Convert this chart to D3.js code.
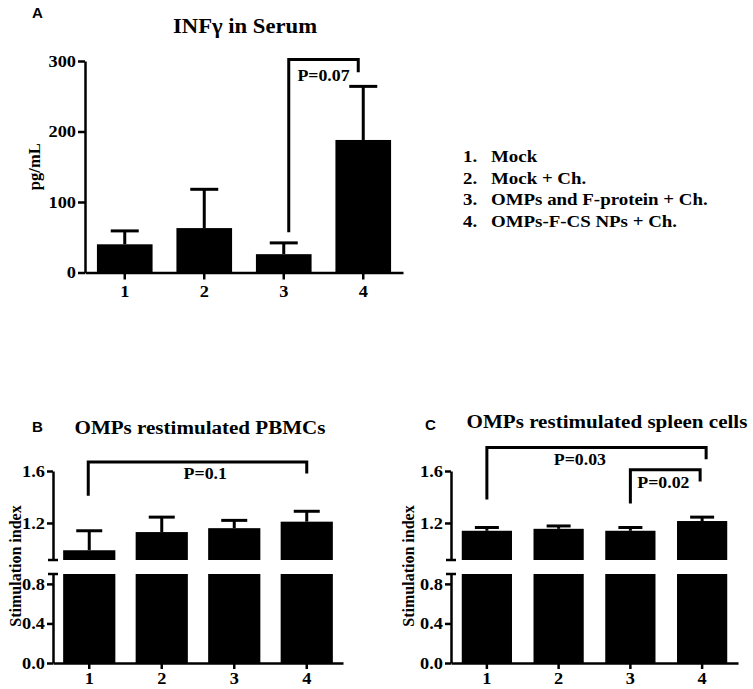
<!DOCTYPE html>
<html><head><meta charset="utf-8">
<script src="https://cdn.jsdelivr.net/npm/d3@7"></script>
<style>
body{margin:0;background:#fff;}
svg text{font-family:"Liberation Serif","Times New Roman",serif;font-weight:bold;fill:#000;}
svg text.letter{font-family:"Liberation Sans",Arial,sans-serif;}
</style></head><body>
<svg id="c" width="753" height="689"></svg>
<script>
// ---------- data ----------
const groups = ["1", "2", "3", "4"];
const legendItems = ["Mock", "Mock + Ch.", "OMPs and F-protein + Ch.", "OMPs-F-CS NPs + Ch."];

const infMean = [40, 63, 26, 188];
const infSem = [19, 55, 16, 76];
const infTicks = [0, 100, 200, 300];

const pbmcMean = [0.99, 1.13, 1.16, 1.21];
const pbmcSem = [0.15, 0.115, 0.06, 0.08];

const spleenMean = [1.14, 1.155, 1.14, 1.215];
const spleenSem = [0.025, 0.022, 0.025, 0.03];

const lowTicks = [0, 0.4, 0.8];
const highTicks = [1.2, 1.6];

// ---------- setup ----------
const svg = d3.select("#c");
svg.append("rect").attr("width", 753).attr("height", 689).attr("fill", "#fff");
const SERIF = '"Liberation Serif","Times New Roman",serif';
const SX = 1.08; // slight horizontal stretch of the original figure text

function txt(x, y, s, size, anchor, cls) {
  const t = svg.append("text")
    .attr("transform", `translate(${x},${y}) scale(${SX},1)`)
    .attr("font-size", size).attr("text-anchor", anchor || "start").text(s);
  if (cls) t.attr("class", cls);
  return t;
}
function styleAxis(g, fs) {
  g.attr("font-family", SERIF).attr("font-size", fs).attr("font-weight", "bold");
  g.selectAll("path,line").attr("stroke", "#000").attr("stroke-width", 2.5);
  g.selectAll("text").attr("fill", "#000").each(function () {
    const t = d3.select(this);
    const xv = +t.attr("x") || 0;
    t.attr("x", xv / SX).attr("transform", `scale(${SX},1)`);
  });
}
function bracket(x1, x2, yTop, yL, yR) {
  svg.append("path")
    .attr("d", `M${x1},${yL}V${yTop}H${x2}V${yR}`)
    .attr("fill", "none").attr("stroke", "#000").attr("stroke-width", 3);
}
function errBar(cx, y0, y1, half) {
  svg.append("line").attr("x1", cx).attr("x2", cx).attr("y1", y0).attr("y2", y1)
    .attr("stroke", "#000").attr("stroke-width", 3);
  svg.append("line").attr("x1", cx - half).attr("x2", cx + half).attr("y1", y1).attr("y2", y1)
    .attr("stroke", "#000").attr("stroke-width", 3);
}

// ---------- Panel A ----------
const xA = d3.scaleBand().domain(groups).range([85, 403]).paddingInner(0.3).paddingOuter(0.15);
const yA = d3.scaleLinear().domain([0, 300]).range([272.5, 61]);

txt(32, 18, "A", 14, "start", "letter");
txt(245, 33, "INFγ in Serum", 21, "middle");

groups.forEach((g, i) => {
  const cx = xA(g) + xA.bandwidth() / 2;
  errBar(cx, yA(infMean[i]), yA(infMean[i] + infSem[i]), 14);
  svg.append("rect").attr("x", xA(g)).attr("width", xA.bandwidth())
    .attr("y", yA(infMean[i])).attr("height", yA(0) - yA(infMean[i])).attr("fill", "#000");
});

svg.append("g").attr("transform", "translate(85,0)")
  .call(d3.axisLeft(yA).tickValues(infTicks).tickSize(7).tickPadding(2).tickSizeOuter(0))
  .call(g => styleAxis(g, 17));
svg.append("g").attr("transform", `translate(0,${yA(0)})`)
  .call(d3.axisBottom(xA).tickSize(7).tickPadding(5).tickSizeOuter(0))
  .call(g => styleAxis(g, 17));

svg.append("text").attr("transform", `translate(40,${(yA(0) + yA(300)) / 2}) rotate(-90)`)
  .attr("text-anchor", "middle").attr("font-size", 16.5).text("pg/mL");

{
  const c3 = xA("3") + xA.bandwidth() / 2, c4 = xA("4") + xA.bandwidth() / 2;
  bracket(c3 + 5, c4 - 5, yA(302), yA(57), yA(284));
  txt((c3 + c4) / 2, yA(272), "P=0.07", 16.5, "middle");
}

// legend
legendItems.forEach((t, i) => {
  const y = 162 + i * 21.5;
  txt(463, y, (i + 1) + ".", 17.5);
  txt(491, y, t, 17.5);
});

// ---------- Panels B & C (broken axis) ----------
function brokenPanel(o) {
  const x = d3.scaleBand().domain(groups).range(o.xRange).paddingInner(o.pad).paddingOuter(o.pad / 2);
  const yLow = d3.scaleLinear().domain([0, 0.9]).range([663, 574]);
  const yHigh = d3.scaleLinear().domain([0.915, 1.6]).range([560, 471]);
  const ax = o.xRange[0];

  txt(o.letterX, o.letterY, o.letter, 14, "start", "letter");
  txt(o.titleX, o.titleY, o.title, 19.5, "middle");

  groups.forEach((g, i) => {
    const m = o.mean[i], s = o.sem[i];
    const cx = x(g) + x.bandwidth() / 2;
    errBar(cx, yHigh(m), yHigh(m + s), o.cap);
    svg.append("rect").attr("x", x(g)).attr("width", x.bandwidth())
      .attr("y", yLow(0.9)).attr("height", yLow(0) - yLow(0.9)).attr("fill", "#000");
    svg.append("rect").attr("x", x(g)).attr("width", x.bandwidth())
      .attr("y", yHigh(m)).attr("height", yHigh(0.915) - yHigh(m)).attr("fill", "#000");
  });

  svg.append("g").attr("transform", `translate(${ax},0)`)
    .call(d3.axisLeft(yHigh).tickValues(highTicks).tickFormat(d3.format(".1f")).tickSize(6).tickPadding(2).tickSizeOuter(0))
    .call(g => styleAxis(g, 17));
  svg.append("g").attr("transform", `translate(${ax},0)`)
    .call(d3.axisLeft(yLow).tickValues(lowTicks).tickFormat(d3.format(".1f")).tickSize(6).tickPadding(2).tickSizeOuter(0))
    .call(g => styleAxis(g, 17));
  [yHigh(0.915), yLow(0.9)].forEach(yy => {
    svg.append("line").attr("x1", ax - 5).attr("x2", ax + 5).attr("y1", yy).attr("y2", yy)
      .attr("stroke", "#000").attr("stroke-width", 2.5);
  });
  svg.append("g").attr("transform", `translate(0,${yLow(0)})`)
    .call(d3.axisBottom(x).tickSize(6).tickPadding(3).tickSizeOuter(0))
    .call(g => styleAxis(g, 17));

  svg.append("text").attr("transform", `translate(${o.labelX},566) rotate(-90)`)
    .attr("text-anchor", "middle").attr("font-size", 16).text("Stimulation index");

  o.brackets.forEach(b => {
    const c1 = x(b.from) + x.bandwidth() / 2, c2 = x(b.to) + x.bandwidth() / 2;
    bracket(c1 + b.dl, c2 + b.dr, yHigh(b.top), yHigh(b.left), yHigh(b.right));
    txt(c1 + b.tx, yHigh(b.ty), b.label, 16.5, "middle");
  });
}

brokenPanel({
  xRange: [53, 343], pad: 0.28, cap: 13,
  letter: "B", letterX: 32, letterY: 432,
  title: "OMPs restimulated PBMCs", titleX: 200, titleY: 434,
  mean: pbmcMean, sem: pbmcSem, labelX: 21,
  brackets: [{ from: "1", to: "4", dl: -1, dr: 0, top: 1.67, left: 1.41, right: 1.58, label: "P=0.1", tx: 116, ty: 1.54 }]
});
brokenPanel({
  xRange: [451, 738], pad: 0.3, cap: 12,
  letter: "C", letterX: 425, letterY: 430,
  title: "OMPs restimulated spleen cells", titleX: 607, titleY: 428,
  mean: spleenMean, sem: spleenSem, labelX: 414,
  brackets: [
    { from: "1", to: "4", dl: 0, dr: 4, top: 1.78, left: 1.38, right: 1.69, label: "P=0.03", tx: 93, ty: 1.645 },
    { from: "3", to: "4", dl: 0, dr: -2, top: 1.61, left: 1.35, right: 1.52, label: "P=0.02", tx: 33, ty: 1.47 }
  ]
});
</script>
</body></html>
